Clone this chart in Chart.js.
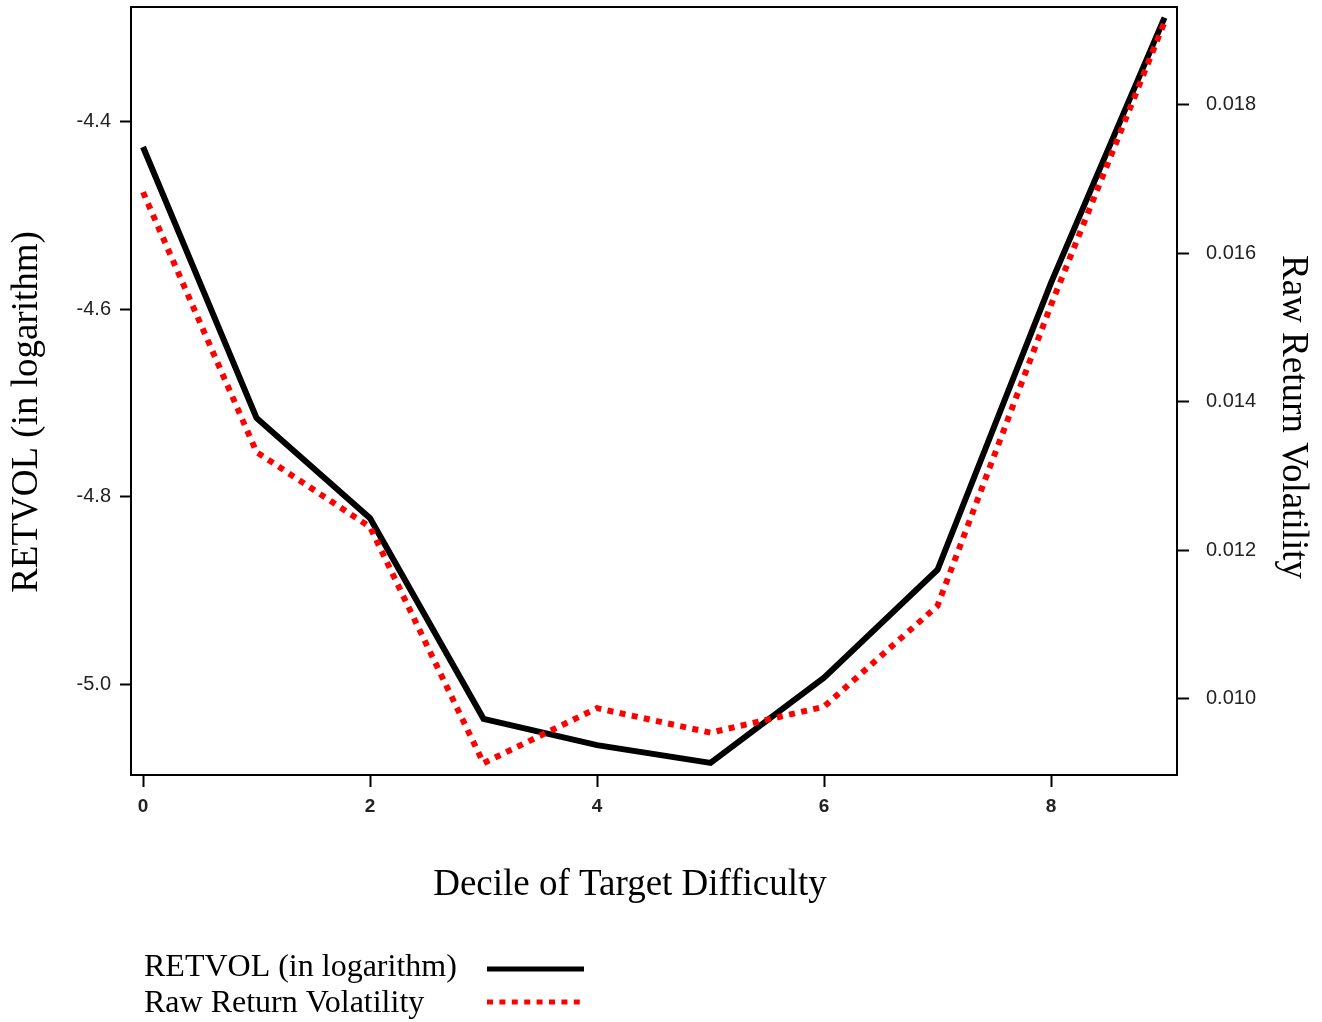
<!DOCTYPE html>
<html>
<head>
<meta charset="utf-8">
<script src="https://cdn.jsdelivr.net/npm/chart.js@4.4.1/dist/chart.umd.min.js"></script>
<style>
  html, body { margin: 0; padding: 0; background: #fff; }
  #wrap { width: 1322px; height: 1022px; }
</style>
</head>
<body>
<div id="wrap"><canvas id="c" width="1322" height="1022"></canvas></div>
<script>
// ---- data ----
const deciles = [0, 1, 2, 3, 4, 5, 6, 7, 8, 9];
const retvolLog = [-4.427, -4.716, -4.823, -5.037, -5.065, -5.084, -4.993, -4.878, -4.572, -4.289];
const rawVol = [0.01682, 0.01332, 0.01231, 0.00913, 0.00987, 0.00954, 0.00989, 0.01125, 0.01530, 0.01911];
const xTicks = [0, 2, 4, 6, 8];
const leftTicks = [-4.4, -4.6, -4.8, -5.0];
const rightTicks = [0.010, 0.012, 0.014, 0.016, 0.018];
const seriesNames = ['RETVOL (in logarithm)', 'Raw Return Volatility'];
const xTitle = 'Decile of Target Difficulty';
const leftTitle = 'RETVOL (in logarithm)';
const rightTitle = 'Raw Return Volatility';

const toPoints = (ys) => deciles.map((d, i) => ({ x: d, y: ys[i] }));

const tickFont = { family: 'Liberation Sans, Arial, sans-serif', size: 20 };
const serif = 'Liberation Serif, Times New Roman, serif';

function fixTicks(values) {
  return (scale) => { scale.ticks = values.map(v => ({ value: v })); };
}
// fixes the scale box size and nudges the axis title by (dx, dy)
function fitTo(prop, size, dx, dy) {
  return (scale) => {
    scale[prop] = size;
    scale.paddingTop = 0; scale.paddingBottom = 0;
    scale.paddingLeft = 0; scale.paddingRight = 0;
    if (!scale._titleShifted) {
      const orig = scale.drawTitle;
      scale.drawTitle = function () {
        this.ctx.save();
        this.ctx.translate(dx, dy);
        orig.call(this);
        this.ctx.restore();
      };
      scale._titleShifted = true;
    }
  };
}

const framePlugin = {
  id: 'frame',
  beforeDatasetsDraw(chart) {
    const { ctx, chartArea: a } = chart;
    ctx.save();
    ctx.strokeStyle = '#000';
    ctx.lineWidth = 2;
    ctx.strokeRect(a.left, a.top, a.right - a.left, a.bottom - a.top);
    ctx.restore();
  }
};

const legendPlugin = {
  id: 'bottomLegend',
  afterDraw(chart) {
    const { ctx } = chart;
    const rows = [
      { ds: chart.data.datasets[0], textY: 968, lineY: 969 },
      { ds: chart.data.datasets[1], textY: 1004, lineY: 1002 }
    ];
    ctx.save();
    ctx.font = '32px ' + serif;
    ctx.fillStyle = '#000';
    ctx.textBaseline = 'middle';
    ctx.textAlign = 'left';
    rows.forEach(r => {
      ctx.fillText(r.ds.label, 144, r.textY);
      ctx.beginPath();
      ctx.strokeStyle = r.ds.borderColor;
      ctx.lineWidth = r.ds.legendWidth;
      ctx.lineCap = 'butt';
      ctx.setLineDash(r.ds.borderDash || []);
      ctx.moveTo(487, r.lineY);
      ctx.lineTo(584, r.lineY);
      ctx.stroke();
    });
    ctx.restore();
  }
};

new Chart(document.getElementById('c'), {
  type: 'line',
  data: {
    datasets: [
      {
        label: seriesNames[0],
        data: toPoints(retvolLog),
        yAxisID: 'y',
        borderColor: '#000000',
        borderWidth: 6,
        legendWidth: 5,
        borderJoinStyle: 'miter',
        borderCapStyle: 'butt',
        pointRadius: 0,
        tension: 0,
        order: 1
      },
      {
        label: seriesNames[1],
        data: toPoints(rawVol),
        yAxisID: 'y1',
        borderColor: '#ff0000',
        borderWidth: 6,
        legendWidth: 5,
        borderDash: [6, 6.4],
        borderCapStyle: 'butt',
        pointRadius: 0,
        tension: 0,
        order: 0
      }
    ]
  },
  options: {
    responsive: false,
    animation: false,
    layout: { padding: { top: 7, bottom: 115, left: 0, right: 0 } },
    plugins: { legend: { display: false }, tooltip: { enabled: false } },
    scales: {
      x: {
        type: 'linear',
        min: -0.106,
        max: 9.11,
        afterBuildTicks: fixTicks(xTicks),
        afterFit: fitTo('height', 132, -24, 0),
        grid: { display: true, drawOnChartArea: false, drawTicks: true, tickLength: 12, tickWidth: 2, tickColor: '#000' },
        border: { display: false },
        ticks: { font: { family: 'Liberation Sans, Arial, sans-serif', size: 19, weight: 'bold' }, color: '#222', padding: 8, maxRotation: 0 },
        title: { display: true, text: xTitle, font: { family: serif, size: 37 }, color: '#000', padding: { top: 0, bottom: 0 } }
      },
      y: {
        type: 'linear',
        position: 'left',
        min: -5.0969,
        max: -4.2777,
        afterBuildTicks: fixTicks(leftTicks),
        afterFit: fitTo('width', 131, 0, 21),
        grid: { display: true, drawOnChartArea: false, drawTicks: true, tickLength: 11, tickWidth: 2, tickColor: '#000' },
        border: { display: false },
        ticks: { font: tickFont, color: '#222', padding: 9, callback: (v) => v.toFixed(1) },
        title: { display: true, text: leftTitle, font: { family: serif, size: 37 }, color: '#000', padding: { top: 5, bottom: 0 } }
      },
      y1: {
        type: 'linear',
        position: 'right',
        min: 0.00897,
        max: 0.019313,
        afterBuildTicks: fixTicks(rightTicks),
        afterFit: fitTo('width', 145, 0, 26),
        grid: { display: true, drawOnChartArea: false, drawTicks: true, tickLength: 12, tickWidth: 2, tickColor: '#000' },
        border: { display: false },
        ticks: { font: tickFont, color: '#222', padding: 17, callback: (v) => v.toFixed(3) },
        title: { display: true, text: rightTitle, font: { family: serif, size: 37 }, color: '#000', padding: { top: 7, bottom: 0 } }
      }
    }
  },
  plugins: [framePlugin, legendPlugin]
});
</script>
</body>
</html>
